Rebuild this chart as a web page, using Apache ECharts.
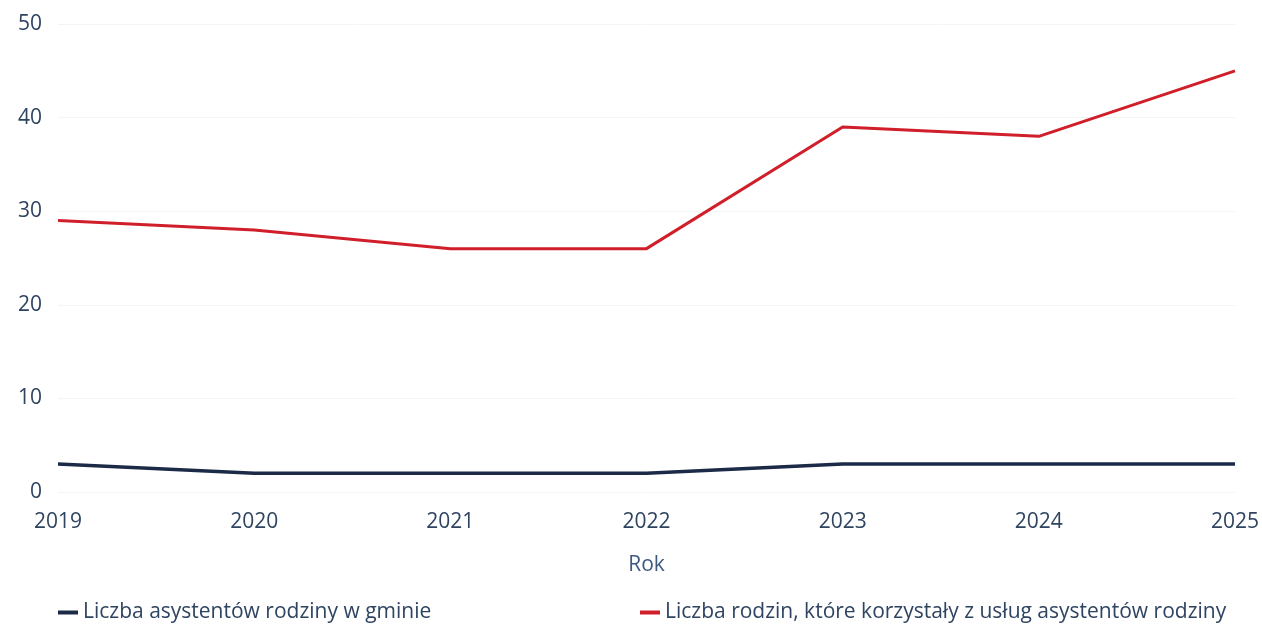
<!DOCTYPE html>
<html>
<head>
<meta charset="utf-8">
<script src="https://cdn.jsdelivr.net/npm/echarts@6/dist/echarts.min.js"></script>
<style>
  html, body { margin: 0; padding: 0; background: #fff; }
  #chart { width: 1262px; height: 629px; }
</style>
</head>
<body>
<div id="chart"></div>
<script>
// dane
const years = ['2019', '2020', '2021', '2022', '2023', '2024', '2025']
const assistants = [3, 2, 2, 2, 3, 3, 3]
const families = [29, 28, 26, 26, 39, 38, 45]

const nameAssistants = 'Liczba asystentów rodziny w gminie'
const nameFamilies = 'Liczba rodzin, które korzystały z usług asystentów rodziny'

const textColor = '#2f4461'
const font = '"Open Sans", "Noto Sans", sans-serif'

const chart = echarts.init(document.getElementById('chart'))

chart.setOption({
  backgroundColor: '#fff',
  animation: false,
  textStyle: { fontFamily: font },
  grid: { left: 58, right: 27, top: 24, bottom: 137, containLabel: false },
  xAxis: {
    type: 'category',
    data: years,
    boundaryGap: false,
    name: 'Rok',
    nameLocation: 'middle',
    nameGap: 63,
    nameTextStyle: { color: '#3d5a80', fontSize: 21, fontFamily: font },
    axisLine: { show: false },
    axisTick: { show: false },
    axisLabel: { color: textColor, fontSize: 21, margin: 20, fontFamily: font },
    splitLine: { show: false },
  },
  yAxis: {
    type: 'value',
    min: 0,
    max: 50,
    interval: 10,
    axisLine: { show: false },
    axisTick: { show: false },
    axisLabel: { color: textColor, fontSize: 21, margin: 16, fontFamily: font },
    splitLine: { show: true, lineStyle: { color: '#f4f4f4', width: 1 } },
  },
  legend: [
    {
      data: [nameAssistants],
      left: 58,
      top: 602,
      padding: 0,
      icon: 'rect',
      itemWidth: 20,
      itemHeight: 4,
      textStyle: { color: textColor, fontSize: 21, fontFamily: font },
    },
    {
      data: [nameFamilies],
      left: 640,
      top: 602,
      padding: 0,
      icon: 'rect',
      itemWidth: 20,
      itemHeight: 4,
      textStyle: { color: textColor, fontSize: 21, fontFamily: font },
    },
  ],
  series: [
    {
      name: nameAssistants,
      type: 'line',
      data: assistants,
      symbol: 'none',
      lineStyle: { color: '#1b2a47', width: 3.5 },
      itemStyle: { color: '#1b2a47' },
    },
    {
      name: nameFamilies,
      type: 'line',
      data: families,
      symbol: 'none',
      lineStyle: { color: '#d01f2b', width: 3 },
      itemStyle: { color: '#d01f2b' },
    },
  ],
})
</script>
</body>
</html>
